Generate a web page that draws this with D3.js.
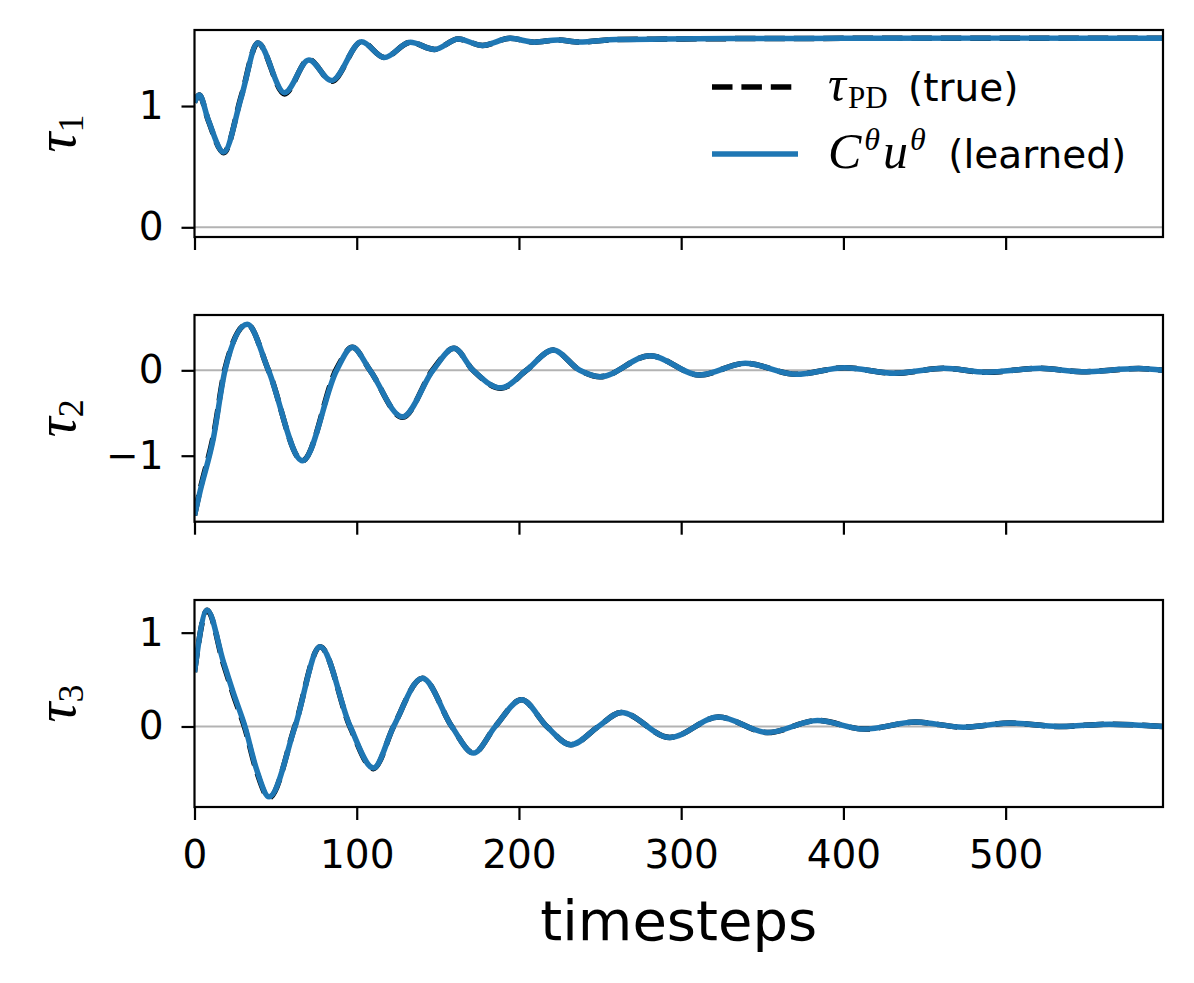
<!DOCTYPE html>
<meta charset="utf-8">
<script src="https://d3js.org/d3.v7.min.js"></script>
<style>
  body { margin: 0; background: #fff; }
</style>
<body>
<script>
// timesteps and values (peaks, troughs, zero crossings)
const t1 = [0, 3, 8.5, 18, 29, 39, 55.5, 70.5, 84.5, 103, 117, 133, 148, 162.5, 177.5, 194.5, 209.5, 224, 237, 260, 290, 330, 400, 500, 597];
const learned1 = [1.03, 1.09, 0.885, 0.62, 1.08, 1.52, 1.11, 1.38, 1.21, 1.53, 1.40, 1.525, 1.467, 1.552, 1.50, 1.558, 1.527, 1.544, 1.528, 1.548, 1.552, 1.556, 1.558, 1.56, 1.56];
const true1 = [1.03, 1.09, 0.88, 0.615, 1.09, 1.52, 1.10, 1.385, 1.205, 1.53, 1.40, 1.525, 1.467, 1.552, 1.50, 1.558, 1.527, 1.544, 1.528, 1.548, 1.552, 1.556, 1.558, 1.56, 1.56];

const t2 = [0, 3.4, 11.6, 18.8, 32.5, 45.6, 66.5, 87.6, 97.3, 108.2, 128.2, 147, 160, 171.7, 189, 204.6, 221, 237.5, 250, 280.7, 311.3, 339.5, 371, 400.7, 431.5, 462, 488, 521, 547, 582, 597];
const learned2 = [-1.70, -1.42, -0.80, 0, 0.54, 0, -1.06, 0, 0.27, 0, -0.545, 0, 0.258, 0, -0.205, 0, 0.238, 0, -0.075, 0.171, -0.055, 0.082, -0.047, 0.03, -0.035, 0.023, -0.023, 0.023, -0.016, 0.02, 0.0];
const true2 = [-1.70, -1.40, -0.77, 0.02, 0.54, 0, -1.06, 0.02, 0.27, 0, -0.55, 0.01, 0.258, 0, -0.21, 0, 0.238, 0, -0.075, 0.171, -0.055, 0.082, -0.047, 0.03, -0.035, 0.023, -0.023, 0.023, -0.016, 0.02, 0.0];

const t3 = [0, 7.8, 17.8, 24, 31.1, 38.3, 46, 62, 77.4, 96, 110.3, 122.7, 140.5, 158.6, 172, 185.4, 201.6, 217.2, 232, 249, 263, 293, 323, 353.3, 384, 413, 444.4, 474, 503, 533, 564, 597];
const learned3 = [0.58, 1.24, 0.69, 0.355, 0, -0.46, -0.75, 0, 0.85, 0, -0.443, 0, 0.515, 0, -0.283, 0, 0.284, 0, -0.195, 0, 0.149, -0.117, 0.10, -0.064, 0.064, -0.028, 0.047, -0.007, 0.036, 0.0, 0.025, 0.0];
const true3 = [0.58, 1.24, 0.67, 0.335, -0.02, -0.48, -0.76, 0.01, 0.85, -0.01, -0.45, 0, 0.515, 0, -0.283, 0, 0.284, 0, -0.195, 0, 0.149, -0.117, 0.10, -0.064, 0.064, -0.028, 0.047, -0.007, 0.036, 0.0, 0.025, 0.0];

const xTicks = [0, 100, 200, 300, 400, 500];
const yTicks = [[0, 1], [-1, 0], [0, 1]];
const yDomains = [[-0.080, 1.627], [-1.773, 0.648], [-0.858, 1.348]];
const labelSubs = ["1", "2", "3"];

const panels = [
  {t: t1, learned: learned1, truth: true1, top: 30, bottom: 237},
  {t: t2, learned: learned2, truth: true2, top: 315, bottom: 521.7},
  {t: t3, learned: learned3, truth: true3, top: 600, bottom: 807}
];

const W = 1194, H = 983;
const left = 194.5, right = 1163;
const blue = "#1f77b4";
const sans = "'DejaVu Sans', sans-serif";
const serif = "'Liberation Serif', 'DejaVu Serif', serif";

const svg = d3.select("body").append("svg")
  .attr("width", W)
  .attr("height", H);

const x = d3.scaleLinear().domain([0, 597]).range([left, right]);

panels.forEach((p, i) => {
  const y = d3.scaleLinear().domain(yDomains[i]).range([p.bottom, p.top]);
  const g = svg.append("g");

  g.append("clipPath").attr("id", "clip" + i)
    .append("rect")
    .attr("x", left).attr("y", p.top)
    .attr("width", right - left).attr("height", p.bottom - p.top);

  // zero line
  g.append("line")
    .attr("x1", left).attr("x2", right)
    .attr("y1", y(0)).attr("y2", y(0))
    .attr("stroke", "#b3b3b3")
    .attr("stroke-width", 2);

  const line = d3.line()
    .x(d => x(d[0]))
    .y(d => y(d[1]))
    .curve(d3.curveMonotoneX);

  const plot = g.append("g").attr("clip-path", `url(#clip${i})`);
  plot.append("path")
    .datum(p.t.map((t, k) => [t, p.truth[k]]))
    .attr("d", line)
    .attr("fill", "none")
    .attr("stroke", "#000")
    .attr("stroke-width", 5.5)
    .attr("stroke-dasharray", "20.5,8.9");
  plot.append("path")
    .datum(p.t.map((t, k) => [t, p.learned[k]]))
    .attr("d", line)
    .attr("fill", "none")
    .attr("stroke", blue)
    .attr("stroke-width", 5.5);

  // axes
  const yAxis = g.append("g")
    .attr("transform", `translate(${left},0)`)
    .call(d3.axisLeft(y).tickValues(yTicks[i]).tickSize(13).tickPadding(18).tickFormat(d3.format("d")));
  const xAxis = g.append("g")
    .attr("transform", `translate(0,${p.bottom})`)
    .call(d3.axisBottom(x).tickValues(xTicks).tickSize(13).tickPadding(20)
      .tickFormat(i === 2 ? d3.format("d") : () => ""));
  [yAxis, xAxis].forEach(a => {
    a.select(".domain").remove();
    a.selectAll(".tick line").attr("stroke", "#000").attr("stroke-width", 2.2);
    a.selectAll(".tick text").attr("fill", "#000")
      .style("font-family", sans).style("font-size", "39px");
  });

  // frame
  g.append("rect")
    .attr("x", left).attr("y", p.top)
    .attr("width", right - left).attr("height", p.bottom - p.top)
    .attr("fill", "none")
    .attr("stroke", "#000")
    .attr("stroke-width", 2.2);

  // y label
  const lab = g.append("text")
    .attr("transform", `translate(75,${(p.top + p.bottom) / 2}) rotate(-90)`)
    .attr("text-anchor", "middle")
    .attr("fill", "#000");
  lab.append("tspan").style("font-family", serif).style("font-style", "italic")
    .style("font-size", "56px").text("τ");
  lab.append("tspan").style("font-family", serif).style("font-size", "36px")
    .attr("dy", 8).text(labelSubs[i]);
});

// x label
svg.append("text")
  .attr("x", (left + right) / 2)
  .attr("y", 940)
  .attr("text-anchor", "middle")
  .style("font-family", sans)
  .style("font-size", "56px")
  .text("timesteps");

// legend
const leg = svg.append("g");
leg.append("line")
  .attr("x1", 712).attr("x2", 798).attr("y1", 87).attr("y2", 87)
  .attr("stroke", "#000").attr("stroke-width", 5.5)
  .attr("stroke-dasharray", "20.5,8.9");
leg.append("line")
  .attr("x1", 712).attr("x2", 798).attr("y1", 154).attr("y2", 154)
  .attr("stroke", blue).attr("stroke-width", 5.5);

const l1 = leg.append("text").attr("x", 828).attr("y", 101).attr("fill", "#000");
l1.append("tspan").style("font-family", serif).style("font-style", "italic").style("font-size", "50px").text("τ");
l1.append("tspan").style("font-family", serif).style("font-size", "31px").attr("dx", 2).attr("dy", 7).text("PD");
l1.append("tspan").style("font-family", sans).style("font-size", "39px").attr("dx", 8).attr("dy", -7).text(" (true)");

const l2 = leg.append("text").attr("x", 828).attr("y", 168).attr("fill", "#000");
l2.append("tspan").style("font-family", serif).style("font-style", "italic").style("font-size", "50px").text("C");
l2.append("tspan").style("font-family", serif).style("font-style", "italic").style("font-size", "32px").attr("dx", 3).attr("dy", -18).text("θ");
l2.append("tspan").style("font-family", serif).style("font-style", "italic").style("font-size", "50px").attr("dx", 3).attr("dy", 18).text("u");
l2.append("tspan").style("font-family", serif).style("font-style", "italic").style("font-size", "32px").attr("dx", 2).attr("dy", -18).text("θ");
l2.append("tspan").style("font-family", sans).style("font-size", "39px").attr("dx", 10).attr("dy", 18).text(" (learned)");
</script>
</body>
</html>
